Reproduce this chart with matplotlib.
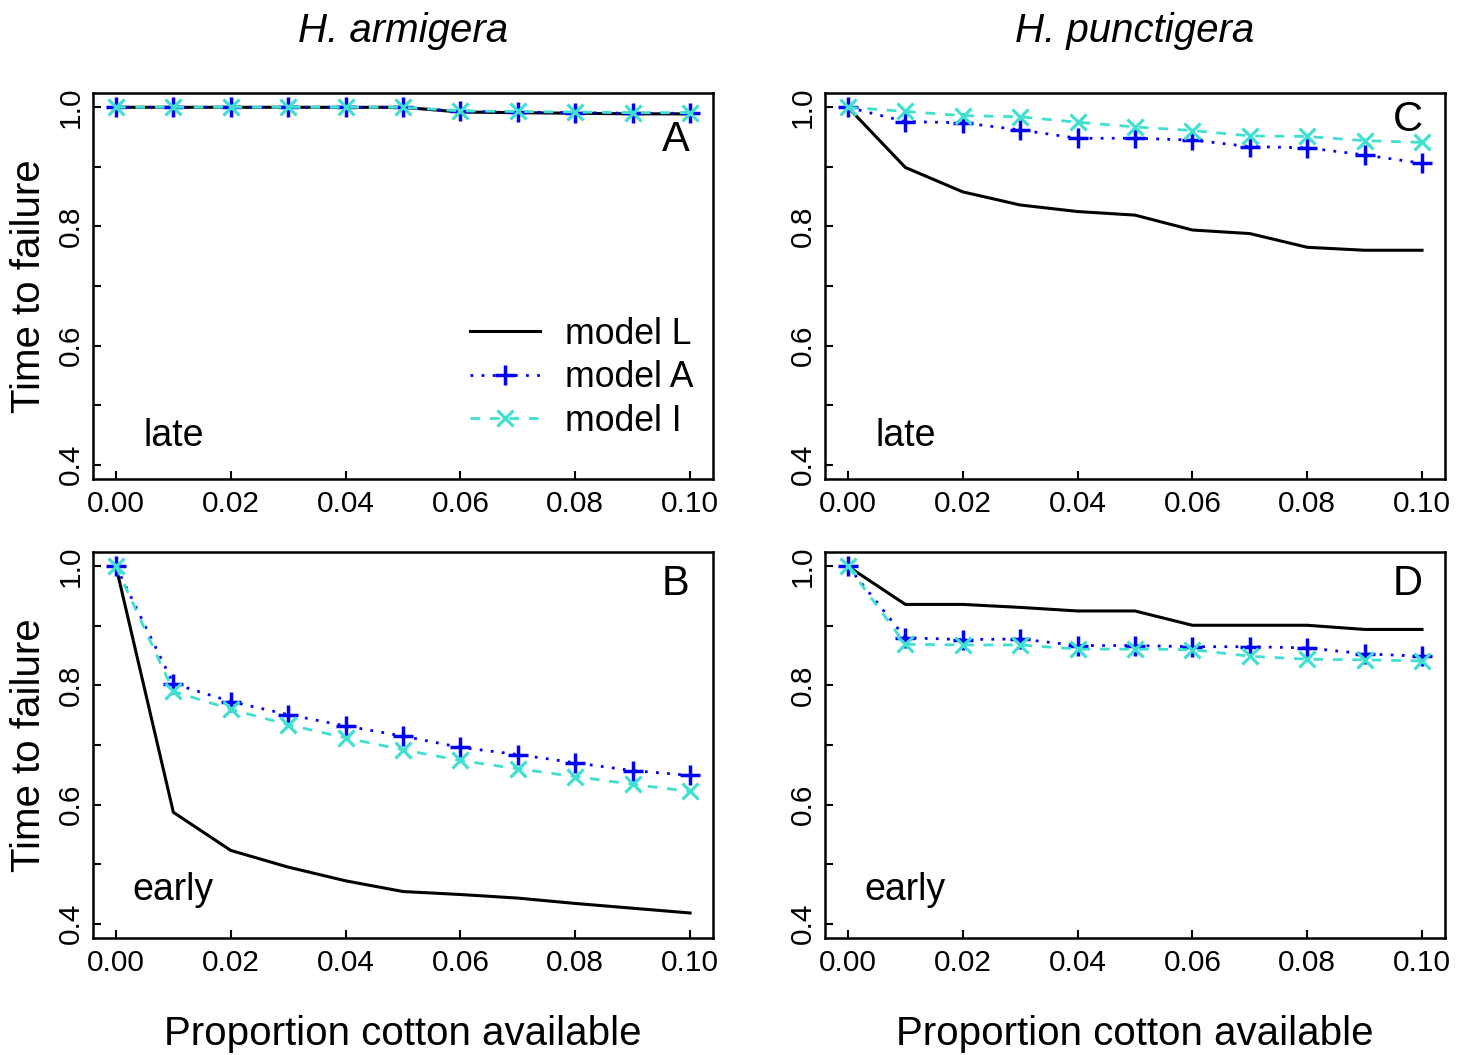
import matplotlib
matplotlib.use("Agg")
import matplotlib.pyplot as plt
import numpy as np

plt.rcParams['font.family'] = ['Liberation Sans', 'DejaVu Sans']

x = [0.00, 0.01, 0.02, 0.03, 0.04, 0.05, 0.06, 0.07, 0.08, 0.09, 0.10]

# Panel A: H. armigera, late
A_L = [1.000, 1.000, 1.000, 1.000, 1.000, 1.000, 0.992, 0.991, 0.990, 0.989, 0.989]
A_A = [1.000, 1.000, 1.000, 1.000, 1.000, 1.000, 0.993, 0.992, 0.991, 0.990, 0.990]
A_I = [1.000, 1.000, 1.000, 1.000, 1.000, 1.000, 0.994, 0.993, 0.992, 0.991, 0.991]

# Panel B: H. armigera, early
B_L = [1.000, 0.587, 0.523, 0.495, 0.472, 0.454, 0.449, 0.443, 0.434, 0.426, 0.418]
B_A = [1.000, 0.803, 0.773, 0.751, 0.732, 0.715, 0.696, 0.684, 0.670, 0.657, 0.649]
B_I = [1.000, 0.790, 0.760, 0.734, 0.712, 0.692, 0.674, 0.660, 0.647, 0.634, 0.622]

# Panel C: H. punctigera, late
C_L = [1.000, 0.899, 0.858, 0.836, 0.825, 0.819, 0.794, 0.788, 0.765, 0.760, 0.760]
C_A = [1.000, 0.976, 0.974, 0.962, 0.948, 0.948, 0.945, 0.934, 0.932, 0.920, 0.906]
C_I = [1.000, 0.993, 0.986, 0.984, 0.975, 0.967, 0.961, 0.952, 0.951, 0.944, 0.941]

# Panel D: H. punctigera, early
D_L = [1.000, 0.936, 0.936, 0.931, 0.925, 0.925, 0.901, 0.901, 0.901, 0.894, 0.894]
D_A = [1.000, 0.880, 0.877, 0.878, 0.867, 0.867, 0.865, 0.865, 0.863, 0.853, 0.849]
D_I = [1.000, 0.869, 0.868, 0.868, 0.861, 0.861, 0.860, 0.849, 0.844, 0.843, 0.841]

species = ["H. armigera", "H. punctigera"]
timing = ["late", "early"]
legend_labels = ["model L", "model A", "model I"]
xlabel = "Proportion cotton available"
ylabel = "Time to failure"
xticks = [0.00, 0.02, 0.04, 0.06, 0.08, 0.10]
yticks_major = [0.4, 0.6, 0.8, 1.0]
yticks_all = [0.4, 0.5, 0.6, 0.7, 0.8, 0.9, 1.0]

W, H = 1470, 1055
fig = plt.figure(figsize=(W / 100, H / 100), dpi=100)

lefts = [93, 825]
widths = 620
tops = [93, 552]
heights = 386

data = {
    (0, 0): (A_L, A_A, A_I, "A", 0.945),
    (0, 1): (B_L, B_A, B_I, "B", 0.970),
    (1, 0): (C_L, C_A, C_I, "C", 0.978),
    (1, 1): (D_L, D_A, D_I, "D", 0.970),
}

TFS = 21.4
LFS = 29
blue = "#0000FF"
cyan = "#40E0D0"

for col in range(2):
    for row in range(2):
        L, Am, Im, letter, ly = data[(col, row)]
        l = lefts[col] / W
        b = 1 - (tops[row] + heights) / H
        ax = fig.add_axes([l, b, widths / W, heights / H])
        ax.plot(x, L, color="black", lw=2.2, ls="-", label=legend_labels[0])
        ax.plot(x, Am, color=blue, lw=2.0, ls=(0, (1, 3)), marker="+", ms=15,
                mew=2.5, label=legend_labels[1])
        ax.plot(x, Im, color=cyan, lw=2.0, ls=(0, (3.5, 3.5)), marker="x", ms=12,
                mew=2.3, label=legend_labels[2])
        ax.set_xlim(-0.004, 0.104)
        ax.set_ylim(0.376, 1.024)
        ax.set_xticks(xticks)
        ax.set_xticklabels(["%.2f" % v for v in xticks], fontsize=TFS)
        ax.set_yticks(yticks_all)
        ax.set_yticklabels(["%.1f" % v if any(abs(v - m) < 1e-9 for m in yticks_major) else ""
                            for v in yticks_all], fontsize=TFS, rotation=90, va="center")
        ax.tick_params(axis="both", direction="in", length=6, width=1.5)
        ax.tick_params(axis="x", pad=8)
        ax.tick_params(axis="y", pad=6)
        for s in ax.spines.values():
            s.set_linewidth(1.8)
        ax.text(0.0975, ly, letter, fontsize=30, ha="center", va="center")
        ax.text(0.010, 0.449 if row == 0 else 0.457, timing[row], fontsize=27,
                ha="center", va="center")
        if col == 0:
            ax.set_ylabel(ylabel, fontsize=LFS, labelpad=6)
        if row == 1:
            ax.set_xlabel(xlabel, fontsize=LFS, labelpad=27)
        if row == 0:
            ax.set_title(species[col], fontsize=LFS, style="italic", pad=37)
        if col == 0 and row == 0:
            ax.legend(loc="center left", bbox_to_anchor=(0.608, 0.262), frameon=False,
                      fontsize=25.7, handlelength=1.96, handletextpad=0.7,
                      labelspacing=0.24, borderpad=0, borderaxespad=0)

fig.savefig("out.png", dpi=100)
